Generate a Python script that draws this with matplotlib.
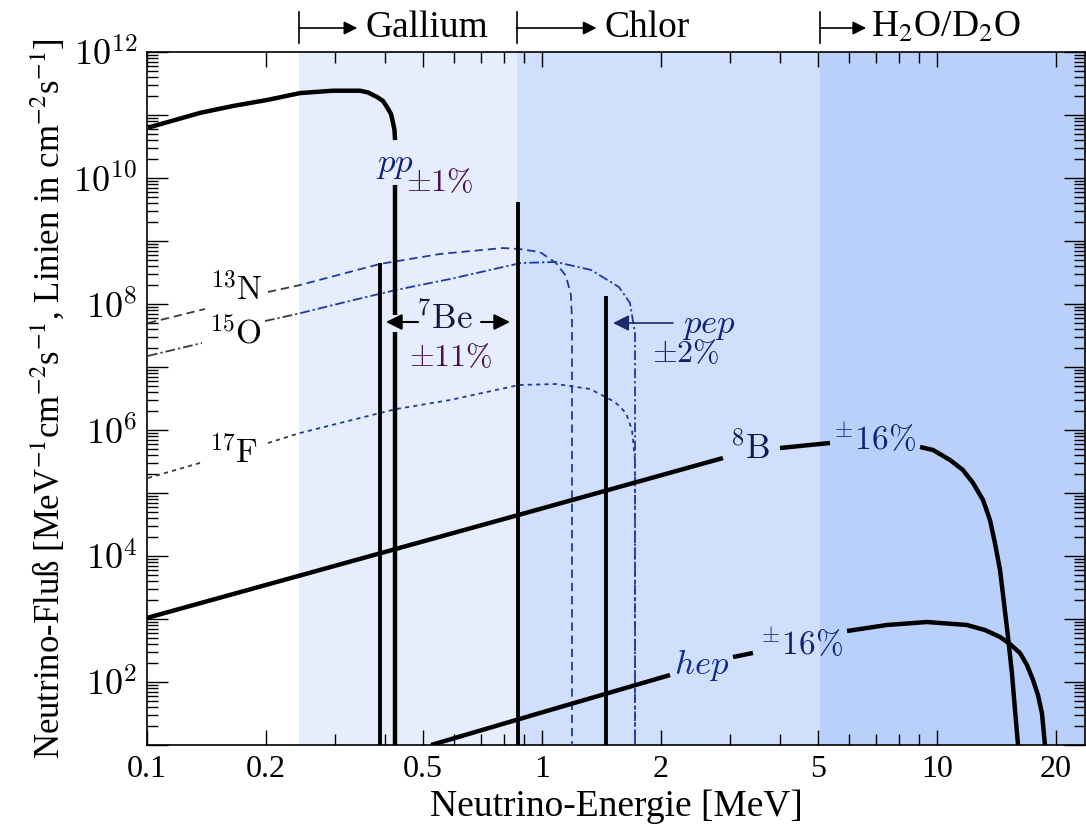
import numpy as np
import matplotlib
matplotlib.use('Agg')
import matplotlib.pyplot as plt
import matplotlib.transforms as mtransforms
from matplotlib.ticker import LogLocator, FuncFormatter, NullFormatter
from matplotlib.patches import Rectangle

plt.rcParams['mathtext.fontset'] = 'cm'
plt.rcParams['font.family'] = ['Liberation Serif', 'DejaVu Serif']
plt.rcParams['lines.scale_dashes'] = False

# ---------------- data ----------------
x_limits = [0.1, 23.7]
y_limits = [1e1, 1e12]

x_ticks = [0.1, 0.2, 0.5, 1, 2, 5, 10, 20]
x_tick_labels = ['0.1', '0.2', '0.5', '1', '2', '5', '10', '20']

detector_names = ['Gallium', 'Chlor', r'H$_2$O/D$_2$O']
detector_thresholds = [0.243, 0.862, 5.06]
region_colors = ['#e6edfd', '#d0dffc', '#b9d0fa']

# pp continuum (MeV, MeV^-1 cm^-2 s^-1) incl. drop at endpoint
pp_E = [0.1006, 0.1362, 0.1651, 0.2013, 0.2443, 0.2958, 0.3460, 0.3626, 0.3823, 0.3958,
        0.4051, 0.4147, 0.4196, 0.4232, 0.4246,
        0.4246, 0.4246, 0.4246, 0.4246]
pp_F = [6.29e10, 1.08e11, 1.39e11, 1.73e11, 2.23e11, 2.43e11, 2.43e11, 2.28e11, 1.93e11, 1.67e11,
        1.34e11, 1.04e11, 7.5e10, 5.78e10, 4.0e10,
        7.7e9, 6.7e7, 3.6e7, 10]
pp_pieces = [(0, 15), (15, 17), (17, 19)]

# 8B continuum
b8_E = [0.1, 0.988, 2.872, 4.004, 5.359, 9.06, 9.77, 10.79, 11.63, 12.34, 13.08, 13.62,
        14.02, 14.44, 14.78, 15.13, 15.48, 15.76, 16.04]
b8_F = [1.04e3, 5.57e4, 3.59e5, 5.18e5, 6.22e5, 5.37e5, 4.82e5, 3.34e5, 2.32e5, 1.44e5, 7.74e4, 3.73e4,
        1.61e4, 6.0e3, 1.80e3, 518, 139, 36, 10]
b8_pieces = [(0, 3), (3, 5), (5, 19)]

# hep continuum
hep_E = [0.524, 0.988, 2.109, 3.045, 3.421, 5.918, 7.47, 9.434, 11.91, 13.23, 14.44, 15.30,
         16.22, 16.90, 17.50, 18.02, 18.44, 18.77]
hep_F = [10, 32.2, 129, 249, 289, 645, 803, 896, 803, 668, 518, 401,
         289, 186, 108, 62, 32, 10]
hep_pieces = [(0, 3), (3, 5), (5, 18)]

# CNO continua
n13_E = [0.1006, 0.1402, 0.2024, 0.2440, 0.3890, 0.5518, 0.7966, 0.8745, 0.9884, 1.085,
         1.150, 1.184, 1.191, 1.191]
n13_F = [4.99e7, 8.33e7, 1.55e8, 2.0e8, 4.32e8, 6.22e8, 7.74e8, 7.47e8, 6.69e8, 4.48e8,
         2.78e8, 1.39e8, 5.57e7, 10]
n13_pieces = [(0, 2), (2, 14)]

o15_E = [0.1006, 0.1377, 0.1989, 0.2397, 0.3265, 0.4270, 0.5849, 0.8847, 1.085, 1.331,
         1.566, 1.670, 1.720, 1.720]
o15_F = [1.50e7, 2.40e7, 5.37e7, 6.94e7, 1.12e8, 1.67e8, 2.49e8, 4.48e8, 4.64e8, 3.47e8,
         1.86e8, 1.04e8, 3.47e7, 10]
o15_pieces = [(0, 2), (2, 14)]

f17_E = [0.1006, 0.1386, 0.2024, 0.2440, 0.3890, 0.4270, 0.5849, 0.8745, 1.085, 1.323,
         1.530, 1.632, 1.690, 1.720, 1.720]
f17_F = [1.73e5, 3.10e5, 6.22e5, 8.96e5, 1.86e6, 2.15e6, 2.99e6, 5.18e6, 5.37e6, 4.48e6,
         2.78e6, 1.86e6, 1.0e6, 3.34e5, 10]
f17_pieces = [(0, 2), (2, 15)]

# mono-energetic lines (cm^-2 s^-1)
be7_E = [0.389, 0.870]
be7_F = [4.48e8, 4.16e9]
pep_E = [1.452]
pep_F = [1.34e8]

# ---------------- figure ----------------
fig = plt.figure(figsize=(10.86, 8.31), dpi=100)
ax = fig.add_axes([147 / 1086, 86 / 831, 938 / 1086, 693 / 831])
ax.set_xscale('log')
ax.set_yscale('log')
ax.set_xlim(*x_limits)
ax.set_ylim(*y_limits)

# shaded detector regions
edges = detector_thresholds + [x_limits[1]]
for i, c in enumerate(region_colors):
    ax.axvspan(edges[i], edges[i + 1], color=c, lw=0, zorder=0)

THICK = 3.2
LINE = 2.8


def draw_pieces(E, F, pieces, clip=None, **kw):
    for a, b in pieces:
        ln, = ax.plot(E[a:b], F[a:b], **kw)
        if clip is not None:
            ln.set_clip_path(clip)


solid_kw = dict(color='black', lw=THICK, solid_capstyle='butt', solid_joinstyle='round', zorder=4)
draw_pieces(pp_E, pp_F, pp_pieces, **solid_kw)
draw_pieces(b8_E, b8_F, b8_pieces, **solid_kw)
draw_pieces(hep_E, hep_F, hep_pieces, **solid_kw)

# dashed CNO curves: grey on white background, blue inside the shaded regions
cno_styles = [
    (n13_E, n13_F, n13_pieces, (0, (6, 3.5))),
    (o15_E, o15_F, o15_pieces, (0, (7, 2.2, 1.6, 2.2))),
    (f17_E, f17_F, f17_pieces, (0, (3, 3))),
]
for E, F, pieces, ls in cno_styles:
    for x0, x1, col in [(1e-3, detector_thresholds[0], '#3a3a3a'),
                        (detector_thresholds[0], 1e3, '#1f3a9e')]:
        rect = Rectangle((x0, 1e-3), x1 - x0, 1e16, transform=ax.transData)
        draw_pieces(E, F, pieces, clip=rect, color=col, lw=1.3, linestyle=ls, zorder=3)

ax.vlines(be7_E, y_limits[0], be7_F, color='black', lw=LINE, zorder=4)
ax.vlines(pep_E, y_limits[0], pep_F, color='black', lw=LINE, zorder=4)

# ---------------- labels in the plot ----------------
navy = '#0e2278'
purple = '#4a1050'
FS = 23
ax.text(0.4246, 1.61e10, r'$pp$', color=navy, fontsize=25, ha='center', va='center', zorder=6)
ax.text(0.5518, 8.04e9, r'$\pm1\%$', color=purple, fontsize=FS, ha='center', va='center', zorder=6)
ax.text(0.568, 5.57e7, r'$^{7}\mathrm{Be}$', color='#15153f', fontsize=25, ha='center', va='center', zorder=6)
ax.text(0.5884, 1.34e7, r'$\pm11\%$', color=purple, fontsize=FS, ha='center', va='center', zorder=6)
ax.text(2.648, 4.64e7, r'$pep$', color=navy, fontsize=25, ha='center', va='center', zorder=6)
ax.text(2.315, 1.55e7, r'$\pm2\%$', color='#10206a', fontsize=FS, ha='center', va='center', zorder=6)
ax.text(0.1689, 1.67e8, r'$^{13}\mathrm{N}$', color='black', fontsize=24, ha='center', va='center', zorder=6)
ax.text(0.168, 3.47e7, r'$^{15}\mathrm{O}$', color='black', fontsize=24, ha='center', va='center', zorder=6)
ax.text(0.1661, 4.31e5, r'$^{17}\mathrm{F}$', color='black', fontsize=24, ha='center', va='center', zorder=6)
ax.text(3.362, 4.82e5, r'$^{8}\mathrm{B}$', color='#0f1a50', fontsize=25, ha='center', va='center', zorder=6)
ax.text(6.966, 6.93e5, r'$^{\pm}16\%$', color=navy, fontsize=24, ha='center', va='center', zorder=6)
ax.text(2.542, 186, r'$hep$', color='#0f2a90', fontsize=25, ha='center', va='center', zorder=6)
ax.text(4.551, 386, r'$^{\pm}16\%$', color=navy, fontsize=24, ha='center', va='center', zorder=6)

arrow_kw = dict(arrowstyle='-|>', color='black', lw=1.5, mutation_scale=24, shrinkA=0, shrinkB=0)
ax.annotate('', xy=(0.4028, 5.18e7), xytext=(0.4855, 5.18e7), arrowprops=arrow_kw, zorder=6)
ax.annotate('', xy=(0.8299, 5.18e7), xytext=(0.7007, 5.18e7), arrowprops=arrow_kw, zorder=6)
ax.annotate('', xy=(1.513, 4.99e7), xytext=(2.146, 4.99e7),
            arrowprops=dict(arrowstyle='-|>', color='#1a2a6a', lw=1.2, mutation_scale=24,
                            shrinkA=0, shrinkB=0), zorder=6)

# ---------------- detector header ----------------
blend = mtransforms.blended_transform_factory(ax.transData, ax.transAxes)
arrow_px = [58, 80, 46]
text_px = [66, 88, 51]
y_head = 1.0346
for thr, name, apx, tpx in zip(detector_thresholds, detector_names, arrow_px, text_px):
    ax.plot([thr, thr], [1.013, 1.058], transform=blend, color='black', lw=1.2, clip_on=False)
    tip = mtransforms.offset_copy(blend, fig=fig, x=apx * 0.72, units='points')
    ax.annotate('', xy=(thr, y_head), xycoords=tip, xytext=(thr, y_head), textcoords=blend,
                arrowprops=dict(arrowstyle='-|>', color='black', lw=1.2, mutation_scale=20,
                                shrinkA=0, shrinkB=0), annotation_clip=False)
    ttr = mtransforms.offset_copy(blend, fig=fig, x=tpx * 0.72, units='points')
    ax.text(thr, y_head, name, transform=ttr, fontsize=27, ha='left', va='center',
            math_fontfamily='stix', clip_on=False)

# ---------------- axes styling ----------------
ax.set_xticks(x_ticks, labels=x_tick_labels)
ax.xaxis.set_minor_locator(LogLocator(base=10, subs=np.arange(2, 10)))
ax.xaxis.set_minor_formatter(NullFormatter())
ax.yaxis.set_major_locator(LogLocator(base=10, numticks=20))
ax.yaxis.set_minor_locator(LogLocator(base=10, subs=np.arange(2, 10), numticks=20))
ax.yaxis.set_minor_formatter(NullFormatter())


def yfmt(v, pos):
    e = int(round(np.log10(v)))
    return r'$10^{%d}$' % e if e % 2 == 0 else ''


ax.yaxis.set_major_formatter(FuncFormatter(yfmt))
ax.tick_params(axis='both', which='both', direction='in', top=True, right=True, width=1.0)
ax.tick_params(axis='x', which='major', length=11, pad=7, labelsize=23)
ax.tick_params(axis='x', which='minor', length=8)
ax.tick_params(axis='y', which='major', length=15, pad=7, labelsize=26)
ax.tick_params(axis='y', which='minor', length=8)
for sp in ax.spines.values():
    sp.set_linewidth(1.2)

ax.set_xlabel('Neutrino-Energie [MeV]', fontsize=27, labelpad=4)
ax.set_ylabel(r'Neutrino-Fluß [MeV$^{-1}$cm$^{-2}$s$^{-1}$, Linien in cm$^{-2}$s$^{-1}$]',
              fontsize=25, labelpad=4, math_fontfamily='stix')

# blue-ish ticks inside shaded regions (as in the reference)
fig.canvas.draw()
tick_blue = '#2a5bd7'
for t in ax.xaxis.get_minor_ticks() + ax.xaxis.get_major_ticks():
    loc = t.get_loc()
    if loc is not None and loc >= detector_thresholds[0] and not np.isclose(np.log10(loc) % 1, 0):
        t.tick1line.set_color(tick_blue)
        t.tick2line.set_color(tick_blue)
for t in ax.yaxis.get_minor_ticks():
    t.tick2line.set_color(tick_blue)

fig.savefig('out.png', dpi=100)
